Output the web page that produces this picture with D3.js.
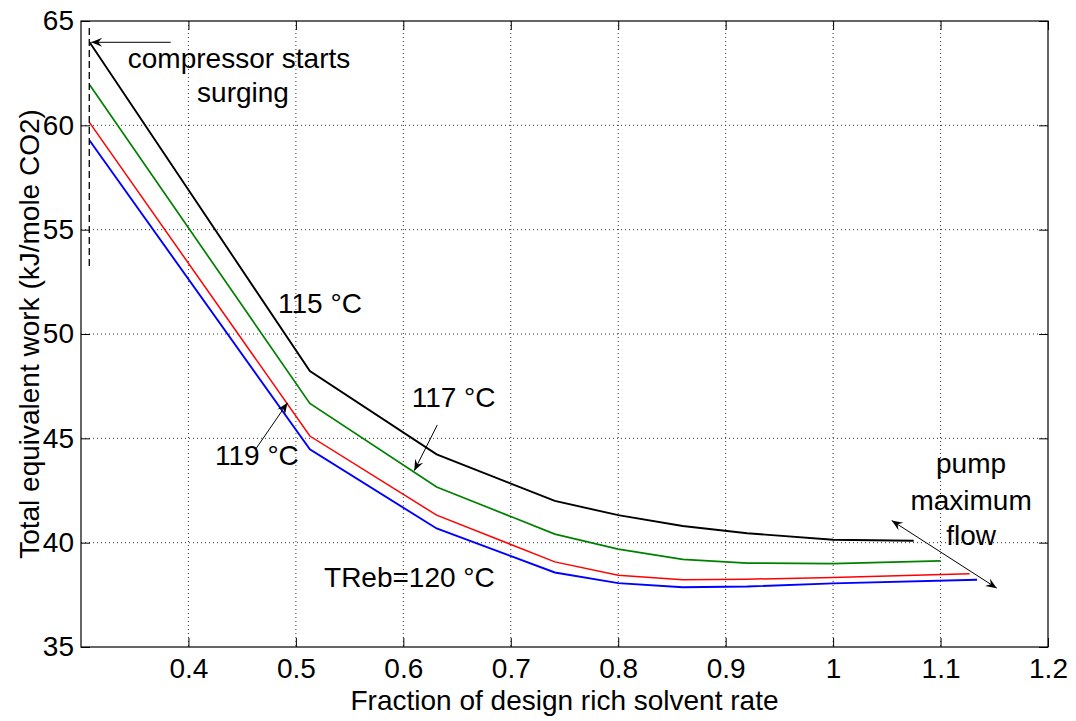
<!DOCTYPE html>
<html>
<head>
<meta charset="utf-8">
<script src="https://cdn.jsdelivr.net/npm/d3@7"></script>
<style>
  body { margin: 0; background: #fff; }
  svg { display: block; background: #fff; }
  text { font-family: Arial, 'Liberation Sans', sans-serif; fill: #000; }
</style>
</head>
<body>
<div id="chart"></div>
<script>
// fraction of design rich solvent rate where the curves bend
var xBreaks = [0.308, 0.513, 0.631, 0.741, 0.80, 0.86, 0.92, 1.0];
// last point of each curve (pump maximum flow)
var xEnd = { t115: 1.075, t117: 1.10, t119: 1.127, t120: 1.134 };

var work115 = [63.98, 48.22, 44.23, 42.0, 41.32, 40.8, 40.45, 40.14, 40.09];
var work117 = [61.94, 46.67, 42.67, 40.41, 39.69, 39.2, 39.02, 39.0, 39.13];
var work119 = [60.13, 45.11, 41.32, 39.08, 38.44, 38.22, 38.25, 38.33, 38.51];
var work120 = [59.27, 44.47, 40.68, 38.57, 38.06, 37.86, 37.9, 38.05, 38.22];

var xTicks = [0.4, 0.5, 0.6, 0.7, 0.8, 0.9, 1, 1.1, 1.2];
var yTicks = [35, 40, 45, 50, 55, 60, 65];

var width = 1076, height = 721;
var margin = {top: 21, right: 28, bottom: 74, left: 81};
var w = width - margin.left - margin.right;
var h = height - margin.top - margin.bottom;

var svg = d3.select('#chart').append('svg')
    .attr('width', width)
    .attr('height', height);

var defs = svg.append('defs');
defs.append('marker')
    .attr('id', 'head')
    .attr('viewBox', '-12 -6 14 12')
    .attr('refX', 0).attr('refY', 0)
    .attr('markerWidth', 14).attr('markerHeight', 12)
    .attr('markerUnits', 'userSpaceOnUse')
    .attr('orient', 'auto-start-reverse')
  .append('path')
    .attr('d', 'M0,0 L-11,-4.5 L-7,0 L-11,4.5 Z')
    .attr('fill', '#000');

var g = svg.append('g')
    .attr('transform', 'translate(' + margin.left + ',' + margin.top + ')');

var x = d3.scaleLinear().domain([0.3, 1.2]).range([0, w]);
var y = d3.scaleLinear().domain([35, 65]).range([h, 0]);

// dotted grid
g.selectAll('.vgrid')
    .data(xTicks.filter(function(d) { return d < 1.2; }))
    .enter().append('line')
    .attr('x1', function(d) { return x(d); })
    .attr('x2', function(d) { return x(d); })
    .attr('y1', 0).attr('y2', h)
    .attr('stroke', '#333')
    .attr('stroke-width', 1)
    .attr('stroke-dasharray', '1,3');

g.selectAll('.hgrid')
    .data(yTicks.filter(function(d) { return d > 35 && d < 65; }))
    .enter().append('line')
    .attr('x1', 0).attr('x2', w)
    .attr('y1', function(d) { return y(d); })
    .attr('y2', function(d) { return y(d); })
    .attr('stroke', '#333')
    .attr('stroke-width', 1)
    .attr('stroke-dasharray', '1,3');

// axes, ticks pointing inward like matlab
var tickLen = 9;
var xAxis = g.append('g')
    .attr('transform', 'translate(0,' + h + ')')
    .call(d3.axisBottom(x).tickValues(xTicks).tickSizeInner(-tickLen).tickSizeOuter(0)
        .tickPadding(11).tickFormat(d3.format('')));
var xTop = g.append('g')
    .call(d3.axisTop(x).tickValues(xTicks).tickSizeInner(-tickLen).tickSizeOuter(0)
        .tickFormat(''));
var yAxis = g.append('g')
    .call(d3.axisLeft(y).tickValues(yTicks).tickSizeInner(-tickLen).tickSizeOuter(0)
        .tickPadding(7));
var yRight = g.append('g')
    .attr('transform', 'translate(' + w + ',0)')
    .call(d3.axisRight(y).tickValues(yTicks).tickSizeInner(-tickLen).tickSizeOuter(0)
        .tickFormat(''));

[xAxis, xTop, yAxis, yRight].forEach(function(a) {
    a.select('.domain').remove();
    a.selectAll('line').attr('stroke', '#000');
    a.selectAll('text')
        .style('font-size', '28px')
        .style('font-family', 'Arial, "Liberation Sans", sans-serif');
});

g.append('rect')
    .attr('width', w).attr('height', h)
    .attr('fill', 'none')
    .attr('stroke', '#000')
    .attr('stroke-width', 1.2);

// curves
var series = [
    {name: 't115', values: work115, color: '#000000', lw: 1.9},
    {name: 't117', values: work117, color: '#008000', lw: 1.7},
    {name: 't119', values: work119, color: '#ff0000', lw: 1.5},
    {name: 't120', values: work120, color: '#0000ff', lw: 1.9}
];

var line = d3.line()
    .x(function(d) { return x(d[0]); })
    .y(function(d) { return y(d[1]); });

g.selectAll('.curve')
    .data(series)
    .enter().append('path')
    .attr('fill', 'none')
    .attr('stroke', function(d) { return d.color; })
    .attr('stroke-width', function(d) { return d.lw; })
    .attr('d', function(d) {
        var xs = xBreaks.concat([xEnd[d.name]]);
        return line(d.values.map(function(v, i) { return [xs[i], v]; }));
    });

// surge limit
g.append('line')
    .attr('x1', x(0.3077)).attr('x2', x(0.3077))
    .attr('y1', y(64.66)).attr('y2', y(53.17))
    .attr('stroke', '#000')
    .attr('stroke-width', 1.3)
    .attr('stroke-dasharray', '7,4');

// annotation arrows [x1, y1, x2, y2, double headed]
var arrows = [
    [0.3835, 63.98, 0.3095, 63.98, false],
    [0.6316, 45.64, 0.6102, 43.45, false],
    [0.462, 44.44, 0.4922, 46.70, false],
    [1.0545, 41.06, 1.1523, 37.82, true]
];

g.selectAll('.arrow')
    .data(arrows)
    .enter().append('line')
    .attr('x1', function(d) { return x(d[0]); })
    .attr('y1', function(d) { return y(d[1]); })
    .attr('x2', function(d) { return x(d[2]); })
    .attr('y2', function(d) { return y(d[3]); })
    .attr('stroke', '#000')
    .attr('stroke-width', 1)
    .attr('marker-end', 'url(#head)')
    .attr('marker-start', function(d) { return d[4] ? 'url(#head)' : null; });

// annotation text [label, x, y, anchor]
var notes = [
    ['compressor starts', 0.4471, 62.75, 'middle'],
    ['surging', 0.4508, 61.10, 'middle'],
    ['115 \u00b0C', 0.4834, 51.01, 'start'],
    ['117 \u00b0C', 0.6078, 46.52, 'start'],
    ['119 \u00b0C', 0.4247, 43.73, 'start'],
    ['TReb=120 \u00b0C', 0.5262, 37.89, 'start'],
    ['pump', 1.1284, 43.34, 'middle'],
    ['maximum', 1.1284, 41.57, 'middle'],
    ['flow', 1.1284, 39.89, 'middle']
];

g.selectAll('.note')
    .data(notes)
    .enter().append('text')
    .attr('x', function(d) { return x(d[1]); })
    .attr('y', function(d) { return y(d[2]); })
    .attr('text-anchor', function(d) { return d[3]; })
    .style('font-size', '28px')
    .text(function(d) { return d[0]; });

// axis titles
g.append('text')
    .attr('x', w / 2)
    .attr('y', h + 63)
    .attr('text-anchor', 'middle')
    .style('font-size', '28px')
    .text('Fraction of design rich solvent rate');

g.append('text')
    .attr('transform', 'translate(' + (39 - margin.left) + ',' + (h / 2) + ') rotate(-90)')
    .attr('text-anchor', 'middle')
    .style('font-size', '28px')
    .text('Total equivalent work (kJ/mole CO2)');
</script>
</body>
</html>
